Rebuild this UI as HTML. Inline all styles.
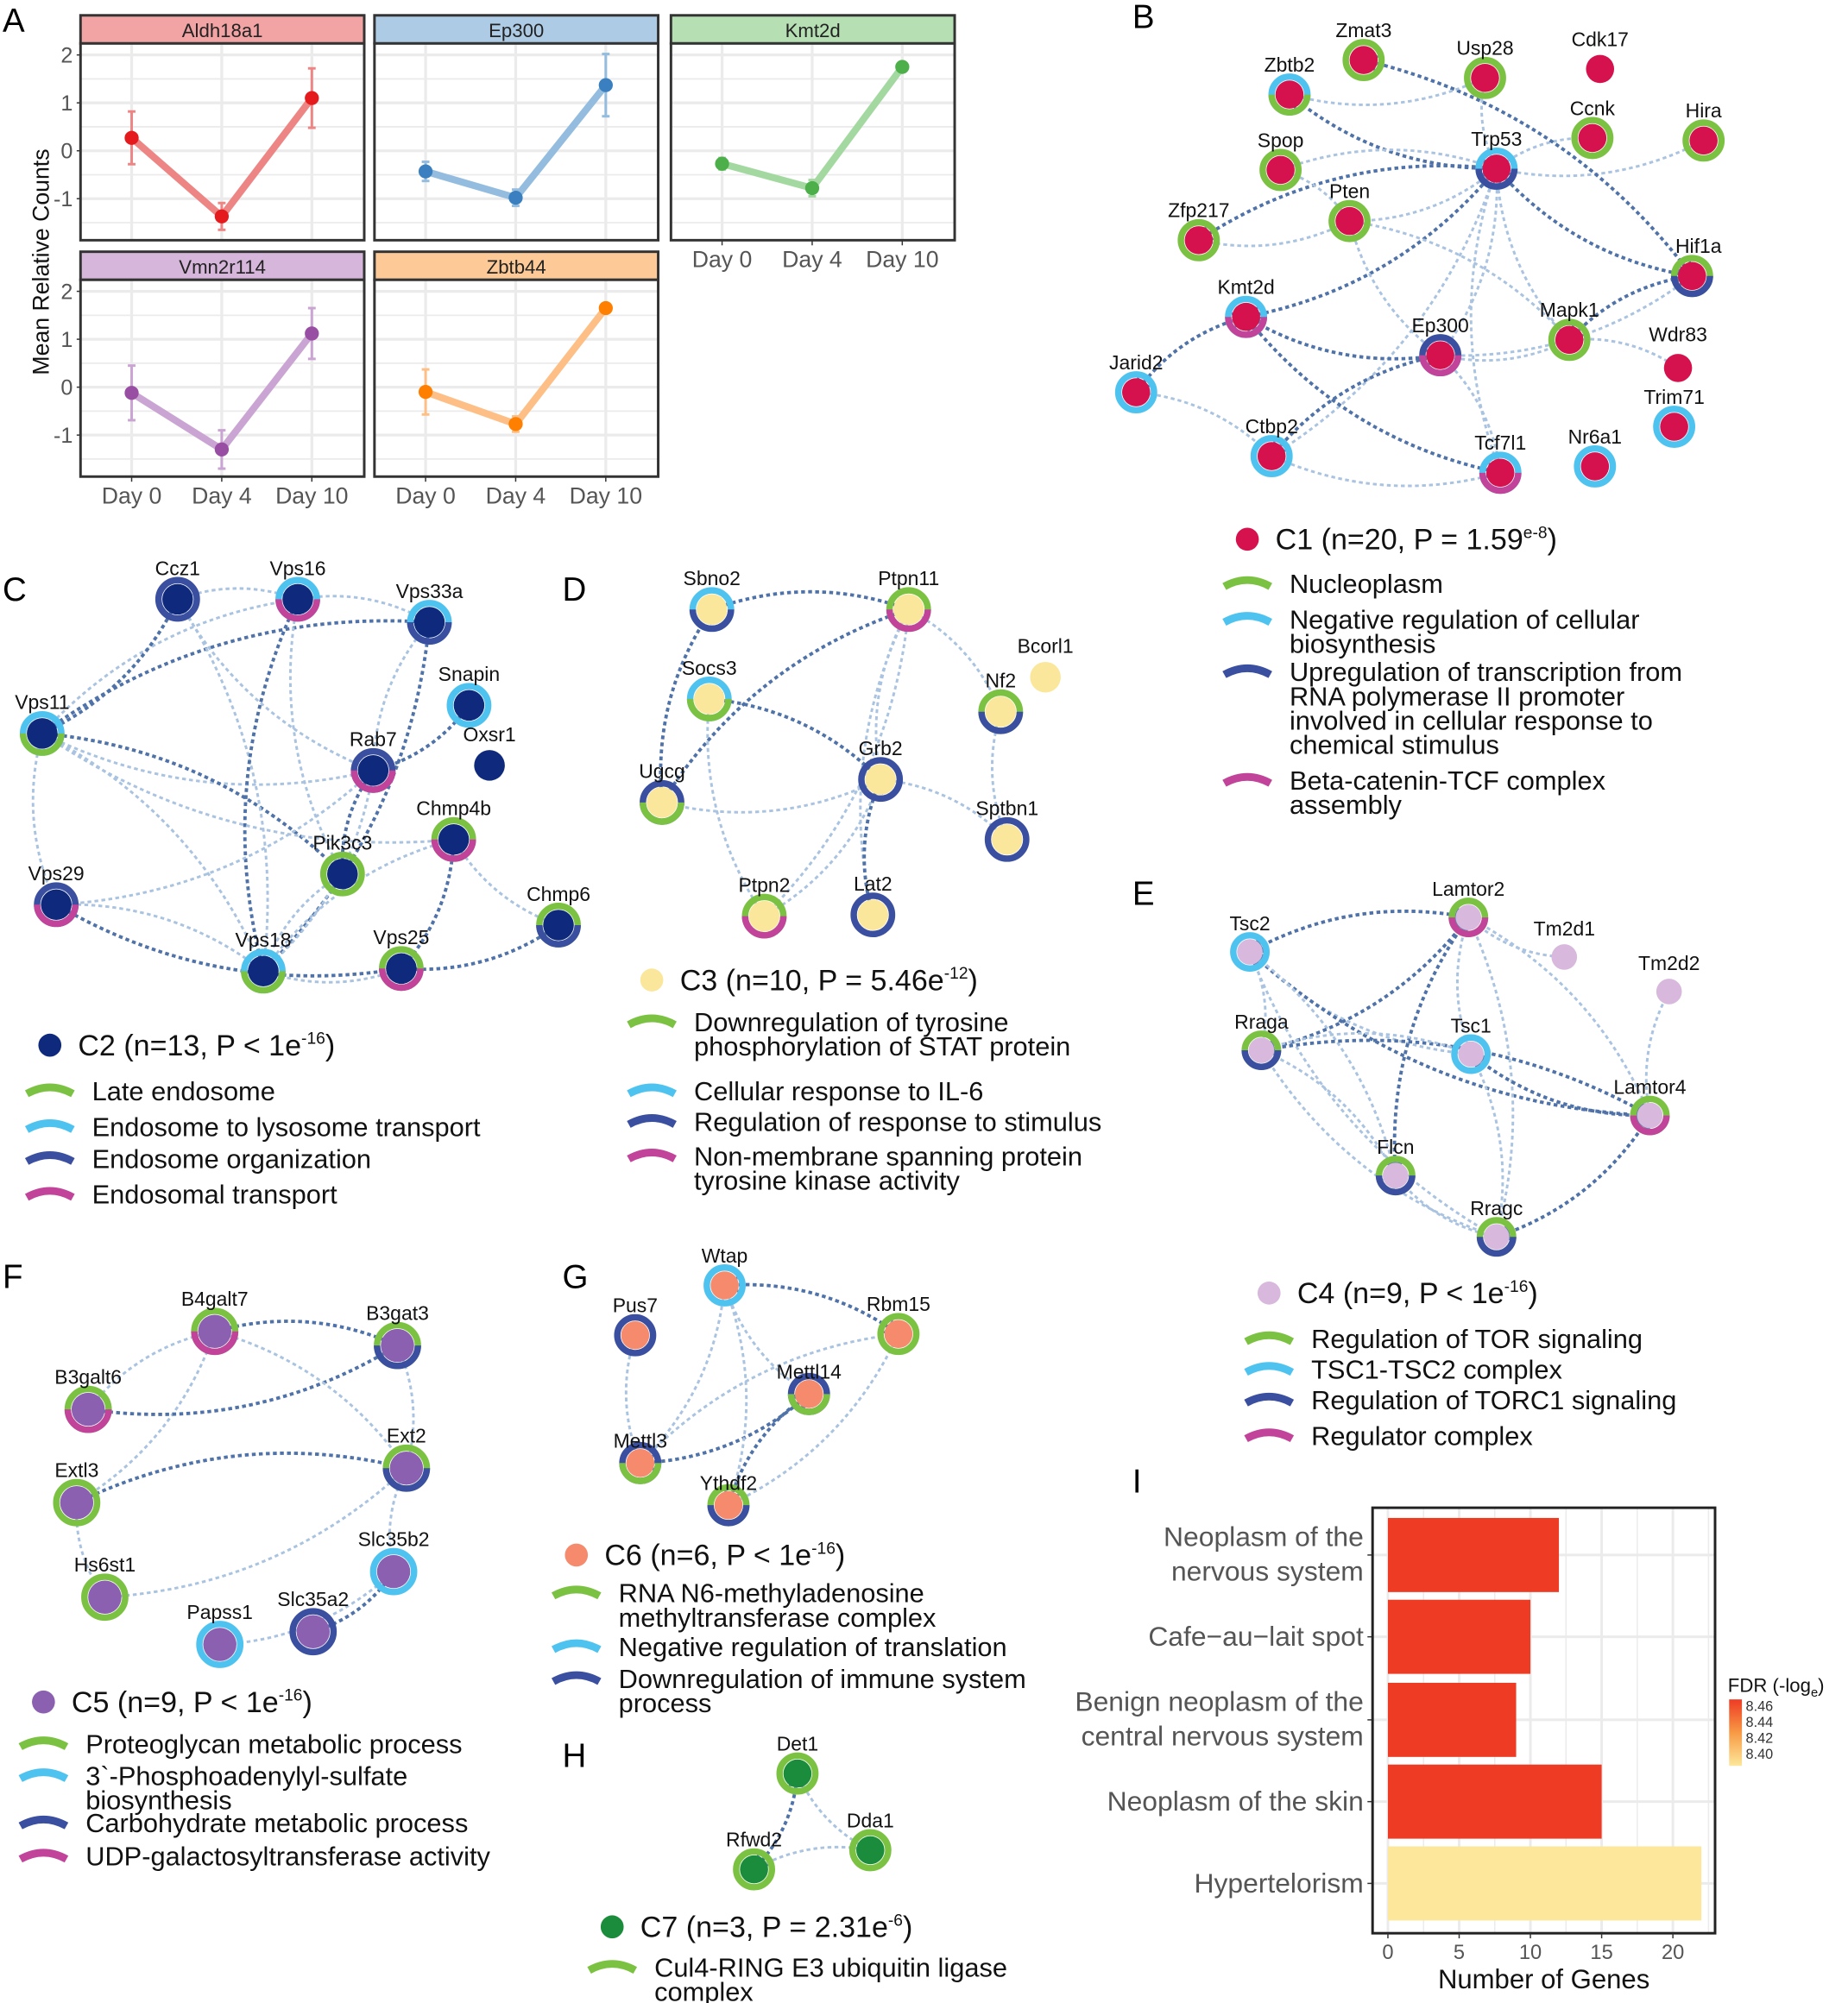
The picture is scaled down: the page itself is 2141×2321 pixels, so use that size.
<!DOCTYPE html>
<html><head><meta charset="utf-8">
<style>
html,body{margin:0;padding:0;background:#fff;}
svg{display:block;font-family:"Liberation Sans",Arial,sans-serif;}
</style></head>
<body>
<svg id="s" width="2141" height="2321" viewBox="0 0 1446 1567.6" xmlns="http://www.w3.org/2000/svg">
<defs>
<marker id="ah" viewBox="0 0 10 10" refX="8" refY="5" markerWidth="5" markerHeight="5" orient="auto-start-reverse"><path d="M0,0L10,5L0,10z" fill="#5a7fb0"/></marker>
</defs>
<g id="A"></g>
<g id="edges"></g>
<g id="nodes"></g>
<g id="txt" font-size="16"></g>
<g id="I"></g>
</svg>
<script>
const NS="http://www.w3.org/2000/svg";
function el(p,tag,a,t){const e=document.createElementNS(NS,tag);for(const k in a)e.setAttribute(k,a[k]);if(t!==undefined)e.textContent=t;document.getElementById(p).appendChild(e);return e;}
[["A",2,25],["B",886,22],["C",2,470],["D",440,470],["E",886,708],["F",2,1008],["G",440,1008],["H",440,1383],["I",886,1168]].forEach(l=>el("txt","text",{x:l[1],y:l[2],"font-size":26},l[0]));

const facets=[
 {n:"Aldh18a1",x:63,y:12,sc:"#f2a3a3",c:"#e41a1c",lc:"#ee8585",d:[[0.27,0.55],[-1.37,0.28],[1.1,0.62]]},
 {n:"Ep300",x:293,y:12,sc:"#aecbe6",c:"#3a7fc0",lc:"#93bcdf",d:[[-0.43,0.2],[-0.98,0.17],[1.37,0.65]]},
 {n:"Kmt2d",x:525,y:12,sc:"#b6e0b3",c:"#4caf4a",lc:"#a3d9a0",d:[[-0.27,0.12],[-0.78,0.17],[1.75,0]]},
 {n:"Vmn2r114",x:63,y:197,sc:"#d6b6da",c:"#984ea3",lc:"#caa4d2",d:[[-0.12,0.57],[-1.3,0.4],[1.12,0.53]]},
 {n:"Zbtb44",x:293,y:197,sc:"#fdca97",c:"#ff7f00",lc:"#fdbf85",d:[[-0.1,0.47],[-0.77,0.16],[1.65,0]]}];
facets.forEach(f=>{
 const w=222,top=f.y+22,h=154;
 el("A","rect",{x:f.x,y:f.y,width:w,height:22,fill:f.sc,stroke:"#333","stroke-width":2});
 el("A","text",{x:f.x+w/2,y:f.y+17,"text-anchor":"middle","font-size":15,fill:"#222"},f.n);
 el("A","rect",{x:f.x,y:top,width:w,height:h,fill:"#fff"});
 const Y=v=>top+84-v*37.5, X=i=>f.x+40+i*70.5;
 for(let v=-1.5;v<=2.01;v+=0.5)el("A","line",{x1:f.x,x2:f.x+w,y1:Y(v),y2:Y(v),stroke:"#ebebeb","stroke-width":Number.isInteger(v)?2.2:1.2});
 for(let i=0;i<3;i++)el("A","line",{x1:X(i),x2:X(i),y1:top,y2:top+h,stroke:"#ebebeb","stroke-width":2.2});
 el("A","polyline",{points:f.d.map((d,i)=>X(i)+","+Y(d[0])).join(" "),fill:"none",stroke:f.lc,"stroke-width":5.5});
 f.d.forEach((d,i)=>{if(d[1]>0){el("A","line",{x1:X(i),x2:X(i),y1:Y(d[0]-d[1]),y2:Y(d[0]+d[1]),stroke:f.lc,"stroke-width":2});
  [d[0]-d[1],d[0]+d[1]].forEach(v=>el("A","line",{x1:X(i)-3,x2:X(i)+3,y1:Y(v),y2:Y(v),stroke:f.lc,"stroke-width":2}));}
  el("A","circle",{cx:X(i),cy:Y(d[0]),r:5.5,fill:f.c});});
 el("A","rect",{x:f.x,y:top,width:w,height:h,fill:"none",stroke:"#333","stroke-width":2});
 if(f.x==63)[2,1,0,-1].forEach(v=>{el("A","text",{x:f.x-6,y:Y(v)+6,"text-anchor":"end","font-size":17,fill:"#555"},v);el("A","line",{x1:f.x-3,x2:f.x,y1:Y(v),y2:Y(v),stroke:"#333"});});
 if(f.y==197||f.n=="Kmt2d")["Day 0","Day 4","Day 10"].forEach((t,i)=>{el("A","line",{x1:X(i),x2:X(i),y1:top+h,y2:top+h+4,stroke:"#333"});el("A","text",{x:X(i),y:top+h+21,"text-anchor":"middle","font-size":18,fill:"#555"},t);});
});
el("A","text",{x:38,y:205,"text-anchor":"middle","font-size":18,fill:"#111",transform:"rotate(-90 38 205)"},"Mean Relative Counts");

const G="#7cc242",C="#4fc3f0",N="#3a4fa0",M="#c2449a";
function net(fill,r,nodes,edges){
 const P={};nodes.forEach(n=>P[n[0]]=n);
 edges.forEach((e,k)=>{const a=P[e[0]],b=P[e[1]];const dx=b[1]-a[1],dy=b[2]-a[2];const bend=(k%2?1:-1)*0.18;
  const mx=(a[1]+b[1])/2-dy*bend,my=(a[2]+b[2])/2+dx*bend;
  const dark=k%3==0;
  el("edges","path",{d:`M${a[1]},${a[2]} Q${mx},${my} ${b[1]},${b[2]}`,fill:"none",stroke:dark?"#4f72a8":"#a9c3e0","stroke-width":dark?2.6:2.0,"stroke-dasharray":"3 2.5","marker-end":"url(#ah)","marker-start":"url(#ah)"});});
 nodes.forEach(n=>{const [nm,x,y,r1,r2,lab]=n;
  if(r1){el("nodes","circle",{cx:x,cy:y,r:r+3,fill:"none",stroke:r1,"stroke-width":5});
   if(r2)el("nodes","path",{d:`M${x-r-3},${y} A${r+3},${r+3} 0 0 0 ${x+r+3},${y}`,fill:"none",stroke:r2,"stroke-width":5});}
  el("nodes","circle",{cx:x,cy:y,r:r,fill:fill});
  el("txt","text",{x:x+(lab&&lab[0]||0),y:y-r-7+(lab&&lab[1]||0),"text-anchor":"middle","font-size":15.5,fill:"#111"},nm);});
}
function legend(x,y,fill,title,items){
 el("nodes","circle",{cx:x,cy:y,r:9,fill:fill});
 const t=el("txt","text",{x:x+22,y:y+8,"font-size":23,fill:"#111"},title[0]);
 const ts=document.createElementNS(NS,"tspan");ts.setAttribute("dy","-9");ts.setAttribute("font-size","13");ts.textContent=title[1];t.appendChild(ts);
 const t2=document.createElementNS(NS,"tspan");t2.setAttribute("dy","9");t2.textContent=title[2];t.appendChild(t2);
 items.forEach(it=>{const [col,yy,lines]=it;
  el("nodes","path",{d:`M${x-18},${yy+2} Q${x},${yy-8} ${x+18},${yy+2}`,fill:"none",stroke:col,"stroke-width":6});
  lines.forEach((l,i)=>el("txt","text",{x:x+33,y:yy+7+i*19,"font-size":20.8,fill:"#111"},l));});
}
net("#d5124e",11,[
 ["Zmat3",1067,47,G],["Zbtb2",1009,74,C,G],["Usp28",1162,61,G],["Cdk17",1252,54],["Ccnk",1246,108,G],["Hira",1333,110,G],
 ["Spop",1002,133,G],["Trp53",1171,132,C,N],["Pten",1056,173,G],["Zfp217",938,188,G],["Hif1a",1324,216,G,N,[5,0]],
 ["Kmt2d",975,248,C,M],["Ep300",1127,278,N,M],["Mapk1",1228,266,G],["Wdr83",1313,288,null,null,[0,-3]],["Jarid2",889,307,C],
 ["Trim71",1310,334,C],["Ctbp2",995,357,C],["Tcf7l1",1174,370,C,M],["Nr6a1",1248,365,C]],
 [["Trp53","Zbtb2"],["Trp53","Spop"],["Trp53","Pten"],["Trp53","Hif1a"],["Trp53","Ep300"],["Trp53","Mapk1"],["Trp53","Kmt2d"],["Trp53","Hira"],["Trp53","Ccnk"],["Trp53","Zfp217"],["Trp53","Ctbp2"],["Trp53","Tcf7l1"],["Ep300","Kmt2d"],["Ep300","Hif1a"],["Ep300","Pten"],["Ep300","Ctbp2"],["Ep300","Tcf7l1"],["Ep300","Mapk1"],["Mapk1","Hif1a"],["Mapk1","Pten"],["Pten","Zfp217"],["Kmt2d","Jarid2"],["Jarid2","Ctbp2"],["Ctbp2","Tcf7l1"],["Zmat3","Hif1a"],["Usp28","Trp53"],["Mapk1","Wdr83"],["Kmt2d","Tcf7l1"],["Spop","Pten"],["Zbtb2","Usp28"]]);
legend(976,422,"#d5124e",["C1 (n=20, P = 1.59","e-8",")"],[[G,457,["Nucleoplasm"]],[C,485,["Negative regulation of cellular","biosynthesis"]],[N,526,["Upregulation of transcription from","RNA polymerase II promoter","involved in cellular response to","chemical stimulus"]],[M,611,["Beta-catenin-TCF complex","assembly"]]]);
net("#0f2a7c",12,[
 ["Ccz1",139,469,N],["Vps16",233,469,C,M],["Vps33a",336,487,C,N],["Snapin",367,552,C],["Vps11",33,574,C,G],["Rab7",292,603,N,M],
 ["Oxsr1",383,599],["Chmp4b",355,657,G,M],["Pik3c3",268,684,G],["Vps29",44,708,N,M],["Chmp6",437,724,G,N],["Vps18",206,760,C,G],["Vps25",314,758,G,M]],
 [["Vps11","Vps33a"],["Vps11","Rab7"],["Vps11","Vps16"],["Vps11","Ccz1"],["Vps11","Vps18"],["Vps11","Vps29"],["Vps11","Pik3c3"],["Ccz1","Rab7"],["Ccz1","Vps18"],["Vps16","Vps18"],["Vps16","Vps33a"],["Vps16","Pik3c3"],["Vps33a","Vps18"],["Vps33a","Rab7"],["Rab7","Vps29"],["Rab7","Pik3c3"],["Rab7","Vps18"],["Chmp4b","Chmp6"],["Chmp4b","Vps25"],["Chmp4b","Vps18"],["Vps25","Vps18"],["Vps25","Chmp6"],["Vps29","Vps18"],["Pik3c3","Vps18"],["Snapin","Rab7"],["Vps11","Chmp4b"],["Ccz1","Vps16"],["Vps29","Vps25"]]);
legend(39,818,"#0f2a7c",["C2 (n=13, P < 1e","-16",")"],[[G,854,["Late endosome"]],[C,882,["Endosome to lysosome  transport"]],[N,907,["Endosome organization"]],[M,935,["Endosomal transport"]]]);
net("#fbe79b",12,[
 ["Sbno2",557,477,C,N],["Ptpn11",711,477,G,M],["Bcorl1",818,530],["Socs3",555,547,C,G],["Nf2",783,557,G,N],["Ugcg",518,628,N,G],
 ["Grb2",689,610,N],["Sptbn1",788,657,N],["Ptpn2",598,717,G,M],["Lat2",683,716,N]],
 [["Sbno2","Ptpn11"],["Ptpn11","Grb2"],["Ptpn11","Nf2"],["Ptpn11","Ugcg"],["Ptpn11","Ptpn2"],["Ptpn11","Lat2"],["Socs3","Grb2"],["Socs3","Ptpn2"],["Grb2","Ugcg"],["Grb2","Lat2"],["Grb2","Sptbn1"],["Nf2","Sptbn1"],["Ugcg","Sbno2"],["Ptpn2","Grb2"]]);
legend(510,767,"#fbe79b",["C3 (n=10, P = 5.46e","-12",")"],[[G,800,["Downregulation of tyrosine","phosphorylation of STAT protein"]],[C,854,["Cellular response to IL-6"]],[N,878,["Regulation of response to stimulus"]],[M,905,["Non-membrane spanning protein","tyrosine kinase activity"]]]);
net("#d8b8dd",10,[
 ["Lamtor2",1149,718,G,M],["Tm2d1",1224,749],["Tm2d2",1306,776],["Tsc2",978,745,C],["Rraga",987,822,G,N],["Tsc1",1151,825,C],
 ["Lamtor4",1291,873,G,M],["Flcn",1092,920,G,N],["Rragc",1171,968,G,N]],
 [["Tsc2","Lamtor2"],["Tsc2","Tsc1"],["Tsc2","Rraga"],["Tsc2","Lamtor4"],["Tsc2","Flcn"],["Tsc2","Rragc"],["Lamtor2","Rraga"],["Lamtor2","Tsc1"],["Lamtor2","Lamtor4"],["Lamtor2","Flcn"],["Lamtor2","Rragc"],["Lamtor2","Tm2d1"],["Rraga","Lamtor4"],["Rraga","Rragc"],["Rraga","Flcn"],["Tsc1","Lamtor4"],["Tsc1","Rragc"],["Flcn","Rragc"],["Lamtor4","Rragc"],["Tm2d2","Lamtor4"],["Rraga","Tsc1"]]);
legend(993,1012,"#d8b8dd",["C4 (n=9, P < 1e","-16",")"],[[G,1048,["Regulation of TOR signaling"]],[C,1072,["TSC1-TSC2 complex"]],[N,1096,["Regulation of TORC1 signaling"]],[M,1124,["Regulator complex"]]]);
net("#8b60b1",13,[
 ["B4galt7",168,1042,G,M],["B3gat3",311,1053,G,N],["B3galt6",69,1103,G,M],["Ext2",318,1149,G,N],["Extl3",60,1176,G],
 ["Slc35b2",308,1230,C],["Hs6st1",82,1250,G],["Papss1",172,1287,C],["Slc35a2",245,1277,N]],
 [["B4galt7","B3gat3"],["B4galt7","B3galt6"],["B4galt7","Extl3"],["B3galt6","B3gat3"],["B4galt7","Ext2"],["Ext2","Slc35b2"],["Extl3","Ext2"],["Extl3","Hs6st1"],["Slc35b2","Papss1"],["Slc35a2","Slc35b2"],["B3gat3","Ext2"],["Hs6st1","Ext2"]]);
legend(34,1332,"#8b60b1",["C5 (n=9, P < 1e","-16",")"],[[G,1365,["Proteoglycan metabolic process"]],[C,1390,["3`-Phosphoadenylyl-sulfate","biosynthesis"]],[N,1427,["Carbohydrate metabolic process"]],[M,1453,["UDP-galactosyltransferase activity"]]]);
net("#f58b6c",11,[
 ["Wtap",567,1006,C],["Pus7",497,1045,N],["Rbm15",703,1044,G],["Mettl14",633,1091,N,G,[0,6]],["Mettl3",501,1145,N,G,[0,6]],["Ythdf2",570,1178,G,N,[0,6]]],
 [["Wtap","Rbm15"],["Wtap","Mettl14"],["Wtap","Mettl3"],["Mettl3","Mettl14"],["Mettl3","Rbm15"],["Ythdf2","Rbm15"],["Ythdf2","Mettl14"],["Pus7","Mettl3"],["Wtap","Ythdf2"]]);
legend(451,1217,"#f58b6c",["C6 (n=6, P < 1e","-16",")"],[[G,1247,["RNA N6-methyladenosine","methyltransferase complex"]],[C,1289,["Negative regulation of translation"]],[N,1314,["Downregulation of immune system","process"]]]);
net("#1b8c3c",11,[["Det1",624,1388,G],["Rfwd2",590,1463,G],["Dda1",681,1448,G]],[["Det1","Rfwd2"],["Det1","Dda1"],["Rfwd2","Dda1"]]);
legend(479,1508,"#1b8c3c",["C7 (n=3, P = 2.31e","-6",")"],[[G,1540,["Cul4-RING E3 ubiquitin ligase","complex"]]]);

const x0=1086,u=11.15;
el("I","rect",{x:1074,y:1180,width:268,height:333,fill:"#fff"});
for(let v=0;v<=22.5;v+=2.5)el("I","line",{x1:x0+v*u,x2:x0+v*u,y1:1180,y2:1513,stroke:"#ebebeb","stroke-width":v%5==0?2:1});
const bars=[[["Neoplasm of the","nervous system"],12,1188,"#ee3b24"],[["Cafe−au−lait spot"],10,1252,"#ee3b24"],[["Benign neoplasm of the","central nervous system"],9,1317,"#ee3b24"],[["Neoplasm of the skin"],15,1381,"#ee3b24"],[["Hypertelorism"],22,1445,"#fde79a"]];
bars.forEach(b=>{el("I","line",{x1:1074,x2:1342,y1:b[2]+29,y2:b[2]+29,stroke:"#ebebeb","stroke-width":2});
 el("I","rect",{x:x0,y:b[2],width:b[1]*u,height:58,fill:b[3]});
 el("I","line",{x1:1070,x2:1074,y1:b[2]+29,y2:b[2]+29,stroke:"#333"});
 b[0].forEach((l,i)=>el("I","text",{x:1067,y:b[2]+(b[0].length==1?36:22+i*27),"text-anchor":"end","font-size":21.5,fill:"#555"},l));});
el("I","rect",{x:1074,y:1180,width:268,height:333,fill:"none",stroke:"#222","stroke-width":2});
[0,5,10,15,20].forEach(v=>{el("I","line",{x1:x0+v*u,x2:x0+v*u,y1:1513,y2:1517,stroke:"#333"});el("I","text",{x:x0+v*u,y:1533,"text-anchor":"middle","font-size":16,fill:"#555"},v);});
el("I","text",{x:1208,y:1556,"text-anchor":"middle","font-size":21,fill:"#111"},"Number of Genes");
el("I","linearGradient",{id:"gr",x1:0,y1:0,x2:0,y2:1});
document.getElementById("gr").innerHTML='<stop offset="0" stop-color="#ee3b24"/><stop offset="0.5" stop-color="#f79a45"/><stop offset="1" stop-color="#fde79a"/>';
el("I","rect",{x:1353,y:1330,width:10,height:52,fill:"url(#gr)"});
const ft=el("I","text",{x:1352,y:1324,"font-size":15,fill:"#111"},"FDR (-log");
ft.innerHTML='FDR (-log<tspan dy="4" font-size="10">e</tspan><tspan dy="-4">)</tspan>';
["8.46","8.44","8.42","8.40"].forEach((t,i)=>el("I","text",{x:1366,y:1339+i*12.5,"font-size":11,fill:"#333"},t));
</script>
</body></html>
